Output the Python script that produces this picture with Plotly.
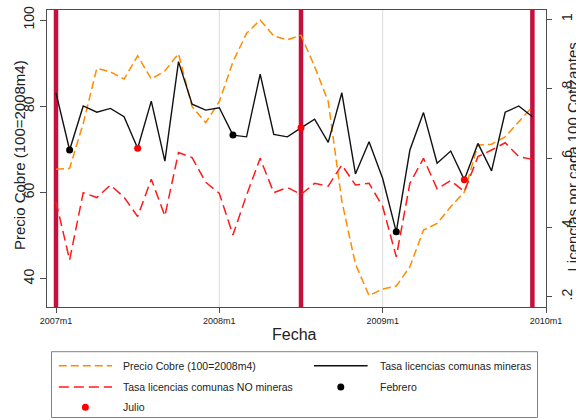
import plotly.graph_objects as go

# Monthly series, Jan 2007 - Dec 2009 (month index 0..35)
meses = [f"{a}m{m}" for a in (2007, 2008, 2009) for m in range(1, 13)]

precio_cobre = [65.4, 65.6, 76.0, 88.8, 88.0, 86.3, 91.7, 86.3, 88.2, 92.2, 79.9, 76.2,
                81.1, 90.3, 96.9, 100.0, 96.3, 95.4, 96.5, 89.2, 81.1, 58.0, 43.4, 36.1,
                37.6, 38.3, 42.8, 51.3, 52.8, 56.7, 60.1, 71.0, 71.2, 72.9, 76.4, 79.9]

tasa_mineras = [0.788, 0.623, 0.750, 0.732, 0.743, 0.719, 0.628, 0.764, 0.591, 0.878, 0.755, 0.738,
                0.745, 0.666, 0.661, 0.842, 0.668, 0.661, 0.687, 0.712, 0.645, 0.788, 0.554, 0.647,
                0.541, 0.387, 0.623, 0.731, 0.585, 0.620, 0.537, 0.642, 0.563, 0.732, 0.750, 0.719]

tasa_no_mineras = [0.474, 0.306, 0.500, 0.486, 0.522, 0.487, 0.431, 0.539, 0.433, 0.616, 0.601, 0.530,
                   0.498, 0.378, 0.493, 0.599, 0.500, 0.515, 0.495, 0.527, 0.519, 0.580, 0.522, 0.527,
                   0.460, 0.315, 0.527, 0.599, 0.511, 0.535, 0.503, 0.604, 0.623, 0.644, 0.604, 0.596]

meses_febrero = [1, 13, 25]
meses_julio = [6, 18, 30]
marcas_verticales = [0, 18, 35]

x_ticks = [0, 12, 24, 36]
x_tick_labels = ["2007m1", "2008m1", "2009m1", "2010m1"]
y_ticks = [40, 60, 80, 100]
y2_ticks = [0.2, 0.4, 0.6, 0.8, 1.0]
y2_tick_labels = [".2", ".4", ".6", ".8", "1"]

W, H = 576, 418
ML, MR, MT, MB = 47, 30, 10, 111
PW, PH = W - ML - MR, H - MT - MB


def px(xp):
    return (xp - ML) / PW


def py(yp):
    return 1 - (yp - MT) / PH


FONT = "Liberation Sans, Arial, sans-serif"
ORANGE = "#FF8C00"
RED = "#FF1A1A"
CRIMSON = "#C4103C"
AXIS = "#4d4d4d"
TEXT = "#222222"

idx = list(range(len(meses)))

fig = go.Figure()

fig.add_trace(go.Scatter(x=idx, y=precio_cobre, mode="lines", yaxis="y",
                         line=dict(color=ORANGE, width=1.5, dash="8px,4px"),
                         name="Precio Cobre (100=2008m4)", hoverinfo="skip", showlegend=False))
fig.add_trace(go.Scatter(x=idx, y=tasa_no_mineras, mode="lines", yaxis="y2",
                         line=dict(color=RED, width=1.5, dash="10px,5px"),
                         name="Tasa licencias comunas NO mineras", showlegend=False))
fig.add_trace(go.Scatter(x=idx, y=tasa_mineras, mode="lines", yaxis="y2",
                         line=dict(color="#111111", width=1.4),
                         name="Tasa licencias comunas mineras", showlegend=False))
fig.add_trace(go.Scatter(x=meses_febrero, y=[tasa_mineras[i] for i in meses_febrero],
                         mode="markers", yaxis="y2", marker=dict(color="black", size=7),
                         name="Febrero", showlegend=False))
fig.add_trace(go.Scatter(x=meses_julio, y=[tasa_mineras[i] for i in meses_julio],
                         mode="markers", yaxis="y2", marker=dict(color="#FF0000", size=7),
                         name="Julio", showlegend=False))

shapes = []
# light vertical grid at the inner year ticks
for t in x_ticks[1:-1]:
    shapes.append(dict(type="line", xref="x", yref="paper", x0=t, x1=t, y0=0, y1=1,
                       line=dict(color="#dcdcdc", width=1), layer="below"))
# thick reference lines
for m in marcas_verticales:
    shapes.append(dict(type="line", xref="x", yref="paper", x0=m, x1=m, y0=0, y1=1,
                       line=dict(color=CRIMSON, width=4.5), layer="below"))

# legend box
shapes.append(dict(type="rect", xref="paper", yref="paper",
                   x0=px(51.5), x1=px(537.5), y0=py(417.5), y1=py(351.7),
                   line=dict(color="#808080", width=1), fillcolor="rgba(0,0,0,0)"))
rows = [365.7, 387.0, 407.3]
c1_sym0, c1_sym1, c1_txt = 58.8, 112.0, 121.3
c2_sym0, c2_sym1, c2_txt = 314.0, 367.6, 378.0
shapes.append(dict(type="line", xref="paper", yref="paper",
                   x0=px(c1_sym0), x1=px(c1_sym1), y0=py(rows[0]), y1=py(rows[0]),
                   line=dict(color=ORANGE, width=1.5, dash="8px,4px")))
shapes.append(dict(type="line", xref="paper", yref="paper",
                   x0=px(c1_sym0), x1=px(c1_sym1), y0=py(rows[1]), y1=py(rows[1]),
                   line=dict(color=RED, width=1.5, dash="10px,5px")))
shapes.append(dict(type="line", xref="paper", yref="paper",
                   x0=px(c2_sym0), x1=px(c2_sym1), y0=py(rows[0]), y1=py(rows[0]),
                   line=dict(color="#111111", width=1.4)))
r = 3.5
cx = (c2_sym0 + c2_sym1) / 2
shapes.append(dict(type="circle", xref="paper", yref="paper",
                   x0=px(cx - r), x1=px(cx + r), y0=py(rows[1] + r), y1=py(rows[1] - r),
                   fillcolor="black", line=dict(width=0)))
cx = (c1_sym0 + c1_sym1) / 2
shapes.append(dict(type="circle", xref="paper", yref="paper",
                   x0=px(cx - r), x1=px(cx + r), y0=py(rows[2] + r), y1=py(rows[2] - r),
                   fillcolor="#FF0000", line=dict(width=0)))

legend_font = dict(family=FONT, size=10.5, color=TEXT)
annotations = [
    dict(text="Precio Cobre (100=2008m4)", x=px(c1_txt), y=py(rows[0])),
    dict(text="Tasa licencias comunas mineras", x=px(c2_txt), y=py(rows[0])),
    dict(text="Tasa licencias comunas NO mineras", x=px(c1_txt), y=py(rows[1])),
    dict(text="Febrero", x=px(c2_txt), y=py(rows[1])),
    dict(text="Julio", x=px(c1_txt), y=py(rows[2])),
]
for a in annotations:
    a.update(xref="paper", yref="paper", xanchor="left", yanchor="middle",
             showarrow=False, font=legend_font)

title_font = dict(family=FONT, size=15, color=TEXT)
annotations += [
    dict(text="Fecha", x=px(294), y=py(334), xref="paper", yref="paper",
         xanchor="center", yanchor="middle", showarrow=False,
         font=dict(family=FONT, size=16, color=TEXT)),
    dict(text="Precio Cobre (100=2008m4)", x=px(19.5), y=py(155.5), xref="paper",
         yref="paper", xanchor="center", yanchor="middle", showarrow=False,
         textangle=-90, font=title_font),
    dict(text="Licencias por cada 100 Cotizantes", x=px(572), y=py(157.5),
         xref="paper", yref="paper", xanchor="center", yanchor="middle",
         showarrow=False, textangle=-90, font=title_font),
]

fig.update_layout(
    template="none",
    width=W, height=H,
    margin=dict(l=ML, r=MR, t=MT, b=MB, pad=0),
    paper_bgcolor="white", plot_bgcolor="white",
    font=dict(family=FONT, color=TEXT),
    showlegend=False,
    shapes=shapes,
    annotations=annotations,
    xaxis=dict(range=[-9 / 13.611, 36], tickvals=x_ticks, ticktext=x_tick_labels,
               ticks="outside", ticklen=5, tickcolor=AXIS, tickwidth=1,
               tickfont=dict(family=FONT, size=9, color=TEXT),
               showline=True, linecolor=AXIS, linewidth=1.3, mirror=True,
               showgrid=False, zeroline=False, automargin=False),
    yaxis=dict(range=[33.44, 102.32], tickvals=y_ticks, ticks="outside", ticklen=6,
               tickcolor=AXIS, tickwidth=1, tickangle=-90,
               tickfont=dict(family=FONT, size=14, color=TEXT),
               showline=True, linecolor=AXIS, linewidth=1.3, mirror=True,
               showgrid=False, zeroline=False, automargin=False),
    yaxis2=dict(range=[0.1703, 1.0268], tickvals=y2_ticks, ticktext=y2_tick_labels,
                overlaying="y", side="right", anchor="x",
                ticks="outside", ticklen=5, tickcolor=AXIS, tickwidth=1, tickangle=-90,
                ticklabelstandoff=3,
                tickfont=dict(family=FONT, size=14, color=TEXT),
                showline=True, linecolor=AXIS, linewidth=1.3,
                showgrid=False, zeroline=False, automargin=False),
)

fig.write_html("out.html")
